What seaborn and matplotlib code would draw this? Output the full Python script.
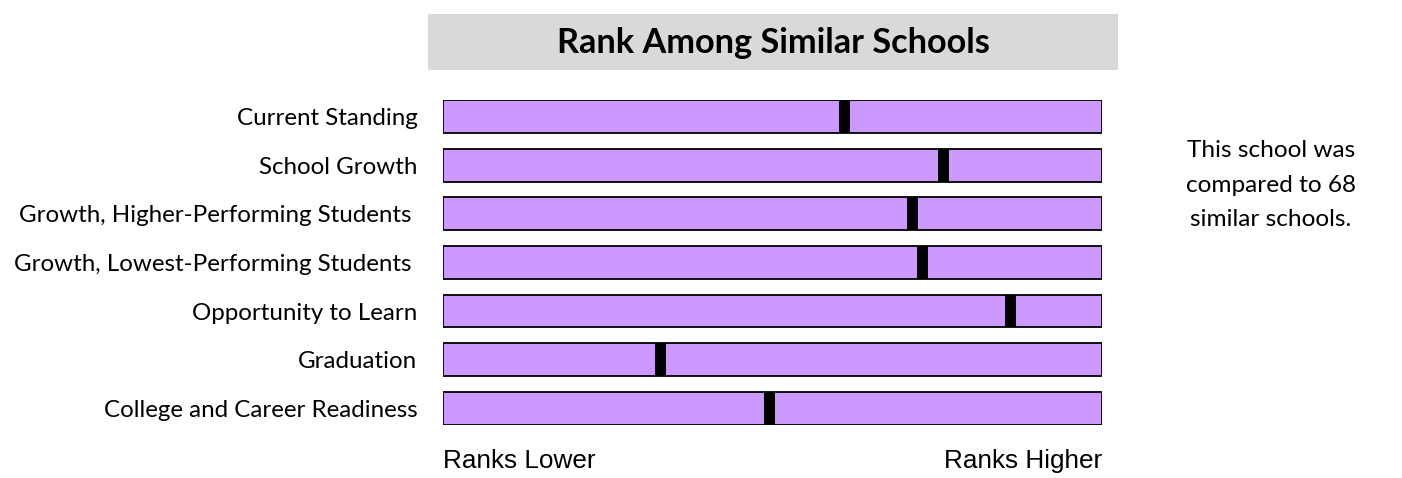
import matplotlib
matplotlib.use("Agg")
import matplotlib.pyplot as plt
import seaborn as sns
import numpy as np
import pandas as pd
from matplotlib.patches import Rectangle

categories = ["Current Standing", "School Growth", "Growth, Higher-Performing Students ",
              "Growth, Lowest-Performing Students ", "Opportunity to Learn", "Graduation",
              "College and Career Readiness"]
rank_pct = [60.9, 75.9, 71.2, 72.8, 86.1, 33.0, 49.5]
full_scale = [100] * 7
title = "Rank Among Similar Schools"
note = "This school was\ncompared to 68\nsimilar schools."
low_label = "Ranks Lower"
high_label = "Ranks Higher"

sns.set_theme(style="white")
plt.rcParams['font.family'] = ['Lato', 'DejaVu Sans']

fig = plt.figure(figsize=(14.02, 4.78), dpi=100)
ax = fig.add_axes([443/1402, 1 - 425/478, 659/1402, 325/478])

df = pd.DataFrame({"cat": categories, "full": full_scale, "rank": rank_pct})
sns.barplot(data=df, x="full", y="cat", orient="h", color="#CC99FF", saturation=1,
            edgecolor="black", linewidth=1.3, width=0.68, ax=ax)

mw = 1.7
ypos = np.arange(len(categories))
ax.barh(ypos, width=mw, left=np.array(rank_pct) - mw / 2, height=0.68, color="black",
        linewidth=0, zorder=3)

ax.set_xlim(0, 100)
ax.set_ylim(6.35, -0.35)
ax.set_xlabel("")
ax.set_ylabel("")
ax.set_xticks([])
for s in ax.spines.values():
    s.set_visible(False)
ax.tick_params(axis="y", length=0, pad=18.5, labelsize=17.4)
for t in ax.get_yticklabels():
    t.set_color("black")

ax.text(0, -0.112, low_label, transform=ax.transAxes, ha="left", va="center",
        fontsize=18.8, family="Liberation Sans", color="black")
ax.text(1, -0.112, high_label, transform=ax.transAxes, ha="right", va="center",
        fontsize=18.8, family="Liberation Sans", color="black")

fig.patches.append(Rectangle((428/1402, 1 - 70/478), 690/1402, 56/478,
                             transform=fig.transFigure, facecolor="#D9D9D9",
                             edgecolor="none", zorder=0))
fig.text(773/1402, 1 - 43/478, title, ha="center", va="center", fontsize=24.7,
         fontweight="bold", color="black")
fig.text(1271/1402, 1 - 185/478, note, ha="center", va="center", fontsize=17.6,
         linespacing=1.78, color="black")

fig.savefig("out.png", dpi=100, facecolor="white")
